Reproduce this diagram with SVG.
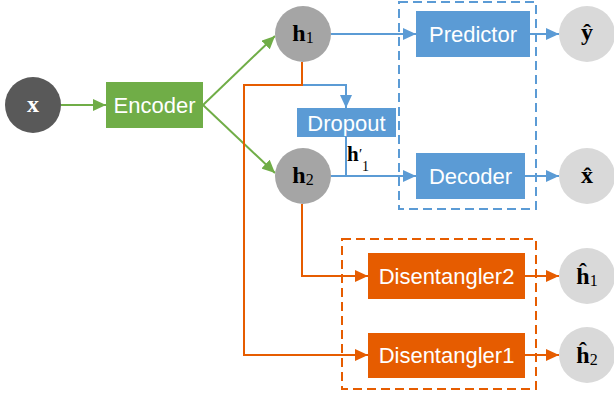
<svg xmlns="http://www.w3.org/2000/svg" width="614" height="396" viewBox="0 0 614 396">
<defs>
<marker id="ag" markerWidth="13" markerHeight="12" refX="13" refY="6" orient="auto" markerUnits="userSpaceOnUse"><path d="M0,0 L13,6 L0,12 Z" fill="#70AD47"/></marker>
<marker id="ab" markerWidth="13" markerHeight="12" refX="13" refY="6" orient="auto" markerUnits="userSpaceOnUse"><path d="M0,0 L13,6 L0,12 Z" fill="#5B9BD5"/></marker>
<marker id="ao" markerWidth="13" markerHeight="12" refX="13" refY="6" orient="auto" markerUnits="userSpaceOnUse"><path d="M0,0 L13,6 L0,12 Z" fill="#E65C00"/></marker>
</defs>
<style>
.lbl{font-family:"Liberation Sans",Arial,sans-serif;font-size:22px;fill:#fff;text-anchor:middle;dominant-baseline:central}
.m{font-family:"Liberation Serif","Times New Roman",serif;font-size:24px;font-weight:bold;fill:#000;text-anchor:middle}
.sub{font-weight:normal;font-size:16px}
.g{stroke:#70AD47;stroke-width:2;fill:none}
.b{stroke:#5B9BD5;stroke-width:2;fill:none}
.o{stroke:#E65C00;stroke-width:2;fill:none}
</style>
<g id="groups">
<rect id="blue-group" x="399" y="2" width="137" height="207" fill="none" stroke="#5B9BD5" stroke-width="2" stroke-dasharray="9,5"/>
<rect id="orange-group" x="342" y="239" width="194" height="150" fill="none" stroke="#E65C00" stroke-width="2" stroke-dasharray="9,5"/>
</g>
<g id="connectors">
<line class="g" x1="61" y1="105" x2="106" y2="105" marker-end="url(#ag)"/>
<line class="g" x1="203" y1="105" x2="275" y2="36" marker-end="url(#ag)"/>
<line class="g" x1="203" y1="105" x2="275" y2="173" marker-end="url(#ag)"/>
<line class="b" x1="331" y1="34" x2="416" y2="34" marker-end="url(#ab)"/>
<line class="b" x1="530" y1="34" x2="559" y2="34" marker-end="url(#ab)"/>
<polyline class="b" points="302,85 346,85 346,108" marker-end="url(#ab)"/>
<line class="b" x1="331" y1="176" x2="416" y2="176" marker-end="url(#ab)"/>
<line class="b" x1="346" y1="137" x2="346" y2="176"/>
<line class="b" x1="525" y1="176" x2="559" y2="176" marker-end="url(#ab)"/>
<polyline class="o" points="302,62 302,85 244,85 244,355 368,355" marker-end="url(#ao)"/>
<polyline class="o" points="302,204 302,276 368,276" marker-end="url(#ao)"/>
<line class="o" x1="525" y1="276" x2="559" y2="276" marker-end="url(#ao)"/>
<line class="o" x1="525" y1="355" x2="559" y2="355" marker-end="url(#ao)"/>
</g>
<g id="node-x"><circle cx="33" cy="105" r="28" fill="#595959"/><text class="m" x="33" y="112" style="fill:#fff">x</text></g>
<g id="node-encoder"><rect x="106" y="82" width="97" height="46" fill="#70AD47"/><text class="lbl" x="154.5" y="105">Encoder</text></g>
<g id="node-h1"><circle cx="303" cy="34" r="28" fill="#A5A5A5"/><text class="m" x="303" y="41">h<tspan class="sub" dy="2">1</tspan></text></g>
<g id="node-h2"><circle cx="303" cy="176" r="28" fill="#A5A5A5"/><text class="m" x="303" y="183">h<tspan class="sub" dy="2">2</tspan></text></g>
<g id="node-dropout"><rect x="297" y="108" width="99" height="29" fill="#5B9BD5"/><text class="lbl" x="346.5" y="123">Dropout</text></g>
<g id="label-h1prime"><text class="m" x="347" y="161" style="text-anchor:start;font-size:21px">h<tspan x="359" dy="-2" font-weight="normal" font-size="15">′</tspan><tspan x="362" dy="12" font-weight="normal" font-size="14">1</tspan></text></g>
<g id="node-predictor"><rect x="416" y="11" width="114" height="46" fill="#5B9BD5"/><text class="lbl" x="473" y="34">Predictor</text></g>
<g id="node-decoder"><rect x="416" y="153" width="109" height="46" fill="#5B9BD5"/><text class="lbl" x="470.5" y="176">Decoder</text></g>
<g id="node-dis2"><rect x="368" y="253" width="157" height="46" fill="#E65C00"/><text class="lbl" x="446.5" y="276">Disentangler2</text></g>
<g id="node-dis1"><rect x="368" y="333" width="157" height="45" fill="#E65C00"/><text class="lbl" x="446.5" y="355.5">Disentangler1</text></g>
<g id="node-yhat"><circle cx="587" cy="34" r="28" fill="#D9D9D9"/><text class="m" x="587" y="40">ŷ</text></g>
<g id="node-xhat"><circle cx="587" cy="176" r="28" fill="#D9D9D9"/><text class="m" x="587" y="183">x̂</text></g>
<g id="node-h1hat"><circle cx="587" cy="276" r="28" fill="#D9D9D9"/><text class="m" x="587" y="284">ĥ<tspan class="sub" dy="2">1</tspan></text></g>
<g id="node-h2hat"><circle cx="587" cy="355" r="28" fill="#D9D9D9"/><text class="m" x="587" y="363">ĥ<tspan class="sub" dy="2">2</tspan></text></g>
</svg>
